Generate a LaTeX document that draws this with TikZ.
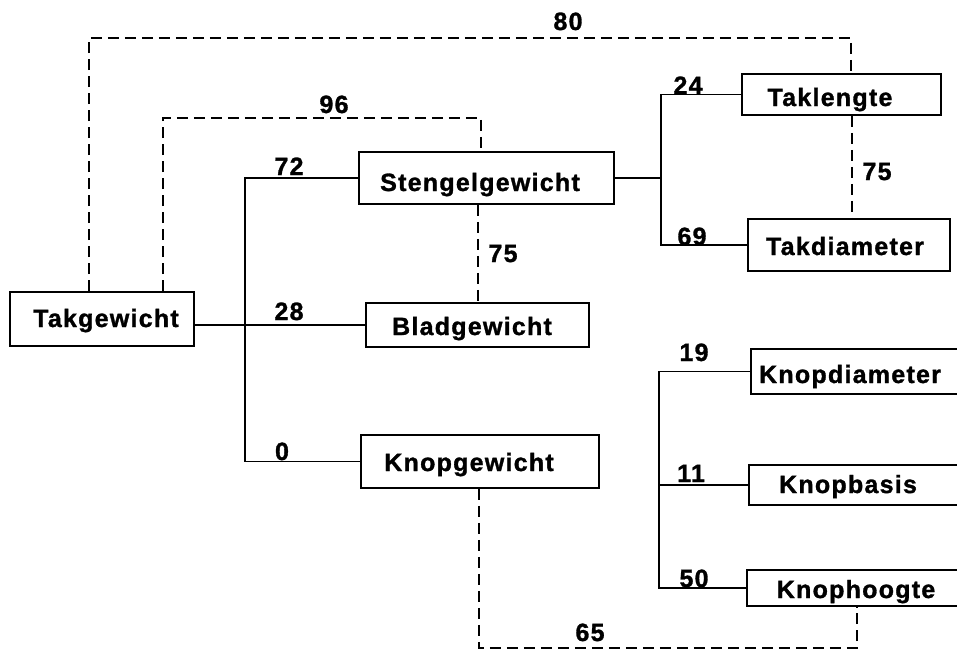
\documentclass[tikz,border=0pt]{standalone}
\usepackage{fontspec}
\newfontfamily\heavyface{Liberation Sans Bold}[LetterSpace=5,FakeBold=1.2]
\begin{document}
\begin{tikzpicture}[x=1pt,y=-1pt,
  box/.style={draw=black,line width=1.8pt,inner sep=0pt,fill=white},
  lbl/.style={anchor=base,inner sep=0pt,font=\fontsize{25}{30}\heavyface},
  num/.style={anchor=base,inner sep=0pt,font=\fontsize{25}{30}\heavyface},
  tie/.style={draw=black,line width=1.2pt},
  dep/.style={draw=black,line width=1.6pt,dash pattern=on 11pt off 6pt}]
\clip (0,0) rectangle (957,651);
\fill[white] (0,0) rectangle (957,651);

% branch points and corners of the dashed links
\coordinate (j1) at (245,325);
\coordinate (j2) at (661,181);
\coordinate (j3) at (659,480);
\coordinate (d80l) at (89,38);
\coordinate (d80r) at (851,38);
\coordinate (d96l) at (163,118);
\coordinate (d96r) at (481,118);
\coordinate (d65l) at (479,648);
\coordinate (d65r) at (857,648);

% boxes
\node[box,minimum width=184,minimum height=54] (tg) at (102,319) {};
\node[box,minimum width=255,minimum height=52] (sg) at (486.5,178) {};
\node[box,minimum width=223,minimum height=44] (bg) at (477.5,325) {};
\node[box,minimum width=238,minimum height=53] (kg) at (480,461.5) {};
\node[box,minimum width=199,minimum height=41] (tl) at (841.5,94.5) {};
\node[box,minimum width=202,minimum height=52] (td) at (849,245) {};
\node[box,minimum width=230,minimum height=45] (kd) at (866,371.5) {};
\node[box,minimum width=230,minimum height=40] (kb) at (864,485) {};
\node[box,minimum width=230,minimum height=36] (kh) at (862,588) {};

% box texts
\node[lbl] at (106,327) {Takgewicht};
\node[lbl] at (480,191) {Stengelgewicht};
\node[lbl] at (472,335) {Bladgewicht};
\node[lbl] at (469,471) {Knopgewicht};
\node[lbl] at (830,106) {Taklengte};
\node[lbl] at (845,255) {Takdiameter};
\node[lbl] at (850,383) {Knopdiameter};
\node[lbl] at (848,493) {Knopbasis};
\node[lbl] at (856,598) {Knophoogte};

% tree connectors
\draw[tie] (tg.east |- bg.west) -- (bg.west);
\draw[tie] (sg.west) -| (j1) |- (kg.west);
\draw[tie] (sg.east) -- (sg.east -| j2);
\draw[tie] (tl.west) -| (j2) |- (td.west);
\draw[tie] (kd.west) -| (j3) |- (kh.west);
\draw[tie] (kb.west) -- (kb.west -| j3);

% dashed links
\draw[dep] (tg.north -| d80l) -- (d80l) -- (d80r) -- (tl.north -| d80r);
\draw[dep] (tg.north -| d96l) -- (d96l) -- (d96r) -- (sg.north -| d96r);
\draw[dep] ([xshift=-8.5pt]sg.south) -- ([xshift=0.5pt]bg.north);
\draw[dep] ([xshift=10.5pt]tl.south) -- ([xshift=3pt]td.north);
\draw[dep] (kg.south -| d65l) -- (d65l) -- (d65r) -- (kh.south -| d65r);

% coefficients
\node[num] at (568,30) {80};
\node[num] at (334,113) {96};
\node[num] at (289,175) {72};
\node[num] at (289,320) {28};
\node[num] at (282,460) {0};
\node[num] at (688,94) {24};
\node[num] at (692,245) {69};
\node[num] at (877,180) {75};
\node[num] at (503,262) {75};
\node[num] at (694,361) {19};
\node[num] at (691,482) {11};
\node[num] at (694,587) {50};
\node[num] at (590,641) {65};
\end{tikzpicture}
\end{document}
